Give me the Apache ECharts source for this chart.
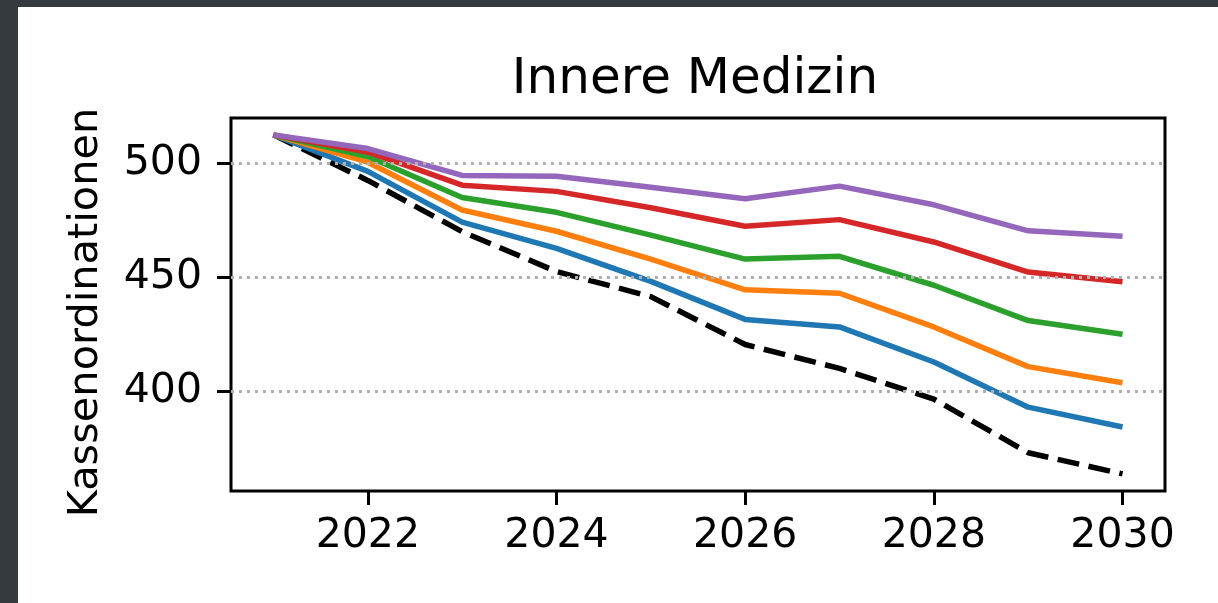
<!DOCTYPE html>
<html>
<head>
<meta charset="utf-8">
<script src="https://cdn.jsdelivr.net/npm/echarts@6/dist/echarts.min.js"></script>
<style>
  html, body { margin: 0; padding: 0; background: #353a3e; width: 1218px; height: 603px; overflow: hidden; }
  #chart { position: absolute; left: 18px; top: 7px; width: 1200px; height: 596px; background: #ffffff; }
</style>
</head>
<body>
<div id="chart"></div>
<script>
const years = [2021, 2022, 2023, 2024, 2025, 2026, 2027, 2028, 2029, 2030];
const xTicks = [2022, 2024, 2026, 2028, 2030];
const yTicks = [400, 450, 500];
const seriesBlack  = [512.5, 492.5, 470.0, 452.5, 441.5, 420.5, 410.0, 396.5, 373.0, 363.7];
const seriesBlue   = [512.5, 496.5, 474.2, 462.7, 448.2, 431.5, 428.2, 412.8, 393.0, 384.3];
const seriesOrange = [512.5, 500.5, 479.5, 470.2, 458.0, 444.5, 443.0, 428.2, 410.8, 403.7];
const seriesGreen  = [512.5, 503.0, 485.0, 478.5, 468.5, 458.0, 459.2, 446.5, 431.0, 425.0];
const seriesRed    = [512.5, 505.0, 490.4, 487.7, 480.5, 472.4, 475.3, 465.5, 452.3, 448.0];
const seriesPurple = [512.5, 506.5, 494.7, 494.3, 489.5, 484.5, 490.0, 481.8, 470.4, 468.0];

const FONT = 'DejaVu Sans';
const pairs = arr => years.map((y, i) => [y, arr[i]]);

function lineSeries(name, data, color, dashed) {
  return {
    name: name,
    type: 'line',
    data: pairs(data),
    symbol: 'none',
    silent: true,
    lineStyle: { color: color, width: 5.5, type: dashed ? [22, 9.6] : 'solid', cap: 'butt', join: 'round' },
    z: 3
  };
}

const chart = echarts.init(document.getElementById('chart'), null, { renderer: 'canvas' });
chart.setOption({
  animation: false,
  backgroundColor: '#ffffff',
  title: {
    text: 'Innere Medizin',
    left: 672,
    top: 43,
    textAlign: 'center',
    textStyle: { fontFamily: FONT, fontSize: 50, fontWeight: 'normal', color: '#000' }
  },
  grid: {
    left: 213, right: 53, top: 111, bottom: 112,
    show: true, borderColor: '#000', borderWidth: 3, backgroundColor: '#fff'
  },
  xAxis: {
    type: 'value',
    min: 2020.55, max: 2030.45,
    axisLine: { show: false },
    splitLine: { show: false },
    axisTick: { show: true, inside: false, length: 14, customValues: xTicks, lineStyle: { color: '#000', width: 3 } },
    axisLabel: { customValues: xTicks, margin: 25, fontFamily: FONT, fontSize: 41, color: '#000', formatter: v => String(v) }
  },
  yAxis: {
    type: 'value',
    min: 356.2, max: 519.9,
    name: 'Kassenordinationen',
    nameLocation: 'middle',
    nameRotate: 90,
    nameGap: 124,
    nameTextStyle: { fontFamily: FONT, fontSize: 41.5, color: '#000', padding: [0, 16, 0, 0] },
    axisLine: { show: false },
    splitLine: { show: false },
    axisTick: { show: true, inside: false, length: 14, customValues: yTicks, lineStyle: { color: '#000', width: 3 } },
    axisLabel: { customValues: yTicks, margin: 29, fontFamily: FONT, fontSize: 41, color: '#000', formatter: v => String(v) }
  },
  series: [
    {
      name: 'grid',
      type: 'line',
      data: [],
      silent: true,
      z: 1,
      markLine: {
        silent: true,
        symbol: ['none', 'none'],
        label: { show: false },
        lineStyle: { color: '#b0b0b0', width: 3, type: [3, 5] },
        data: yTicks.map(v => ({ yAxis: v }))
      }
    },
    lineSeries('Basis', seriesBlack, '#000000', true),
    lineSeries('S1', seriesBlue, '#1f77b4', false),
    lineSeries('S2', seriesOrange, '#ff7f0e', false),
    lineSeries('S3', seriesGreen, '#2ca02c', false),
    lineSeries('S4', seriesRed, '#d62728', false),
    lineSeries('S5', seriesPurple, '#9467bd', false)
  ]
});
</script>
</body>
</html>
